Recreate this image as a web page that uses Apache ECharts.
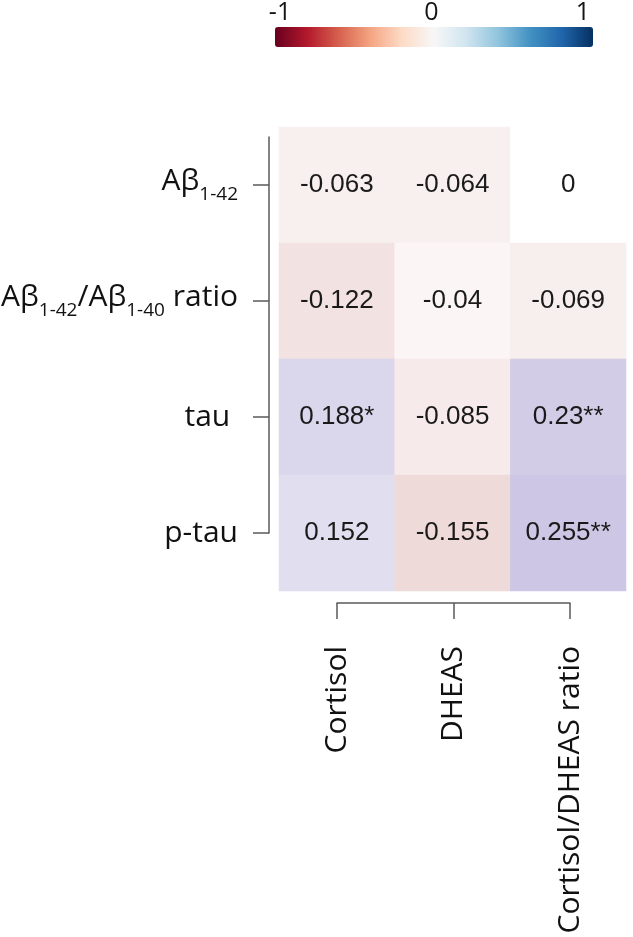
<!DOCTYPE html>
<html>
<head>
<meta charset="utf-8">
<script src="https://cdn.jsdelivr.net/npm/echarts@6/dist/echarts.min.js"></script>
<style>html,body{margin:0;padding:0;background:#fff}#c{width:633px;height:937px}</style>
</head>
<body>
<div id="c"></div>
<script>
// ---- data ----
var colLabels = ['Cortisol', 'DHEAS', 'Cortisol/DHEAS ratio'];
var rowLabels = ['{m|Aβ}{sub|1-42}', '{m|Aβ}{sub|1-42}{m|/Aβ}{sub|1-40}{m| ratio}', '{m|tau }', '{m|p-tau}'];
var rowAbeta42 = [-0.063, -0.064, 0];
var rowAbetaRatio = [-0.122, -0.04, -0.069];
var rowTau = [0.188, -0.085, 0.23];
var rowPTau = [0.152, -0.155, 0.255];
var sigAbeta42 = ['', '', ''];
var sigAbetaRatio = ['', '', ''];
var sigTau = ['*', '', '**'];
var sigPTau = ['', '', '**'];
var colorbarTicks = [-1, 0, 1];

var matrix = [rowAbeta42, rowAbetaRatio, rowTau, rowPTau];
var sigs = [sigAbeta42, sigAbetaRatio, sigTau, sigPTau];
var data = [];
matrix.forEach(function (row, r) {
  row.forEach(function (v, c) { data.push([c, r, v, sigs[r][c]]); });
});

var chart = echarts.init(document.getElementById('c'));
var axisColor = '#5a5a5a';
var labelFont = '"Open Sans", sans-serif';

chart.setOption({
  animation: false,
  grid: [
    { left: 279, top: 127, width: 347, height: 464 },
    { left: 268, top: 137, width: 1, height: 396 },
    { left: 337, top: 590, width: 233, height: 13 },
    { left: 280, top: 27, width: 303, height: 20 }
  ],
  xAxis: [
    { gridIndex: 0, type: 'category', data: colLabels, show: false },
    { gridIndex: 1, type: 'value', show: false },
    {
      gridIndex: 2, type: 'value', min: 0, max: 2, interval: 1, position: 'bottom',
      axisLine: { show: true, lineStyle: { color: axisColor, width: 1.5 } },
      axisTick: { show: true, length: 16, lineStyle: { color: axisColor, width: 1.5 } },
      splitLine: { show: false },
      axisLabel: {
        rotate: 90, margin: 43, fontSize: 30, fontFamily: labelFont, color: '#111',
        formatter: function (v) { return colLabels[Math.round(v)]; }
      }
    },
    {
      gridIndex: 3, type: 'value', min: -1, max: 1, interval: 1, position: 'top',
      axisLine: { show: false }, axisTick: { show: false }, splitLine: { show: false },
      axisLabel: {
        customValues: colorbarTicks, margin: 6, fontSize: 25, fontFamily: labelFont, color: '#151515',
        formatter: function (v) { return String(v); }
      }
    }
  ],
  yAxis: [
    { gridIndex: 0, type: 'category', data: rowLabels, inverse: true, show: false },
    {
      gridIndex: 1, type: 'value', inverse: true, min: -0.4138, max: 3,
      axisLine: { show: true, lineStyle: { color: axisColor, width: 1.5 } },
      axisTick: { show: true, length: 16, customValues: [0, 1, 2, 3], lineStyle: { color: axisColor, width: 1.5 } },
      splitLine: { show: false },
      axisLabel: {
        customValues: [0, 1, 2, 3], margin: 31, fontSize: 30, fontFamily: labelFont, color: '#111',
        formatter: function (v) { return rowLabels[Math.round(v)]; },
        rich: {
          m: { fontSize: 30, fontFamily: labelFont, color: '#111', lineHeight: 30, verticalAlign: 'top' },
          sub: { fontSize: 19, fontFamily: labelFont, color: '#111', lineHeight: 38, verticalAlign: 'bottom' }
        }
      }
    },
    { gridIndex: 2, type: 'value', show: false },
    { gridIndex: 3, type: 'value', show: false }
  ],
  visualMap: [
    {
      type: 'continuous', min: -1, max: 1, seriesIndex: [], orient: 'horizontal',
      left: 260, top: 12, itemWidth: 20, itemHeight: 318, calculable: false, hoverLink: false,
      text: null, showLabel: false,
      inRange: { color: ['#67001f', '#b2182b', '#d6604d', '#f4a582', '#fddbc7', '#f7f7f7', '#d1e5f0', '#92c5de', '#4393c3', '#2166ac', '#053061'] }
    },
    {
      type: 'continuous', show: false, min: -0.3, max: 0.3, seriesIndex: 0, dimension: 2,
      inRange: { color: ['#deb7b5', '#ffffff', '#c4bde0'] }
    }
  ],
  series: [{
    type: 'heatmap', xAxisIndex: 0, yAxisIndex: 0, data: data,
    itemStyle: { borderWidth: 0 },
    label: {
      show: true, fontSize: 26, fontFamily: '"Liberation Sans", Arial, sans-serif', color: '#1a1a1a',
      formatter: function (p) { return p.value[2] + p.value[3]; }
    },
    emphasis: { disabled: true }
  }]
});
</script>
</body>
</html>
